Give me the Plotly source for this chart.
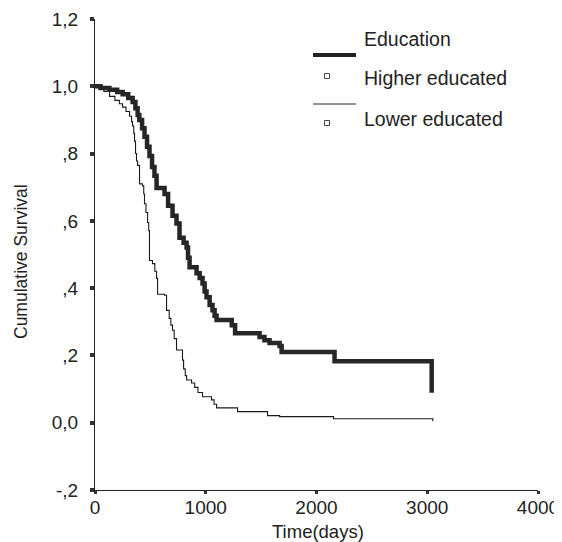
import plotly.graph_objects as go

# ---- data ----
higher_t = [0, 50, 130, 200, 250, 300, 340, 365, 385, 400, 425, 447, 470, 492, 515, 537, 556, 628, 660,
            700, 736, 763, 800, 827, 840, 854, 917, 945, 971, 990, 1007, 1035, 1061, 1080, 1098, 1235,
            1265, 1486, 1530, 1576, 1667, 1685, 2163, 3040, 3040]
higher_s = [1.0, 0.995, 0.99, 0.983, 0.976, 0.965, 0.953, 0.935, 0.915, 0.90, 0.875, 0.85, 0.82, 0.793,
            0.76, 0.734, 0.698, 0.68, 0.645, 0.615, 0.592, 0.55, 0.535, 0.521, 0.49, 0.462, 0.444, 0.43,
            0.414, 0.39, 0.373, 0.35, 0.334, 0.318, 0.305, 0.29, 0.266, 0.255, 0.245, 0.237, 0.228, 0.21,
            0.183, 0.183, 0.089]

lower_t = [0, 40, 80, 131, 180, 220, 248, 280, 312, 330, 339, 350, 357, 366, 375, 385, 402, 429, 440,
           447, 460, 475, 485, 492, 519, 540, 556, 565, 628, 646, 670, 685, 700, 715, 736, 790, 800, 815,
           827, 872, 900, 930, 971, 1052, 1075, 1098, 1287, 1558, 1667, 2154, 3050, 3050]
lower_s = [1.0, 0.995, 0.985, 0.97, 0.958, 0.948, 0.938, 0.925, 0.911, 0.895, 0.882, 0.86, 0.837, 0.80,
           0.778, 0.765, 0.71, 0.704, 0.68, 0.651, 0.625, 0.595, 0.571, 0.482, 0.473, 0.45, 0.429, 0.382,
           0.379, 0.334, 0.31, 0.29, 0.275, 0.25, 0.216, 0.186, 0.16, 0.14, 0.127, 0.118, 0.105, 0.09,
           0.077, 0.068, 0.055, 0.044, 0.033, 0.021, 0.018, 0.012, 0.012, 0.004]

y_tickvals = [-0.2, 0.0, 0.2, 0.4, 0.6, 0.8, 1.0, 1.2]
y_ticktext = ["-,2", "0,0", ",2", ",4", ",6", ",8", "1,0", "1,2"]
x_tickvals = [0, 1000, 2000, 3000, 4000]
x_ticktext = ["0", "1000", "2000", "3000", "4000"]

legend_title = "Education"
series_names = ["Higher educated", "Lower educated"]

# ---- layout geometry (screen pixels of the reference) ----
W, H = 562, 542
OFF = 8  # page body margin
L, R, T, B = 95, 538, 19, 490
FONT = "Liberation Sans, Arial, sans-serif"
TXT = "#222222"


def px(x):
    return (x - L) / (R - L)


def py(y):
    return (B - y) / (B - T)


fig = go.Figure()
fig.add_trace(go.Scatter(x=lower_t, y=lower_s, mode="lines", line=dict(color="#1a1a1a", width=1.1, shape="hv"),
                         name=series_names[1], showlegend=False, hoverinfo="skip"))
fig.add_trace(go.Scatter(x=higher_t, y=higher_s, mode="lines", line=dict(color="#262626", width=4.5, shape="hv"),
                         name=series_names[0], showlegend=False, hoverinfo="skip"))

shapes = []
annotations = []
# legend: thick sample, square, thin sample, square
shapes.append(dict(type="line", xref="paper", yref="paper", x0=px(313), x1=px(356), y0=py(55), y1=py(55),
                   line=dict(color="#222222", width=4)))
shapes.append(dict(type="line", xref="paper", yref="paper", x0=px(313), x1=px(356), y0=py(104), y1=py(104),
                   line=dict(color="#222222", width=1)))
for cy in (76, 123):
    shapes.append(dict(type="rect", xref="paper", yref="paper", x0=px(324.5), x1=px(329.5),
                       y0=py(cy + 2.5), y1=py(cy - 2.5), line=dict(color="#444444", width=1),
                       fillcolor="white"))
for text, cy in ((legend_title, 39), (series_names[0], 78), (series_names[1], 119)):
    annotations.append(dict(text=text, xref="paper", yref="paper", x=px(362), y=py(cy), xanchor="left",
                            yanchor="middle", showarrow=False, font=dict(family=FONT, size=19.5, color=TXT)))
# axis titles
annotations.append(dict(text="Cumulative Survival", xref="paper", yref="paper", x=px(21), y=py(262),
                        xanchor="center", yanchor="middle", textangle=-90, showarrow=False,
                        font=dict(family=FONT, size=17.5, color=TXT)))
annotations.append(dict(text="Time(days)", xref="paper", yref="paper", x=px(318), y=py(531),
                        xanchor="center", yanchor="middle", showarrow=False,
                        font=dict(family=FONT, size=18.5, color=TXT)))

fig.update_layout(
    width=W, height=H,
    margin=dict(l=L - OFF, r=W - R + OFF, t=T - OFF, b=H - B + OFF, pad=0, autoexpand=False),
    paper_bgcolor="white", plot_bgcolor="white",
    showlegend=False,
    shapes=shapes, annotations=annotations,
    xaxis=dict(range=[0, 4000], tickvals=x_tickvals, ticktext=x_ticktext, showgrid=False, zeroline=False,
               showline=True, linecolor="#222222", linewidth=1, ticks="outside", ticklen=3, tickwidth=3,
               tickcolor="#333333", tickfont=dict(family=FONT, size=19, color=TXT), ticklabelstandoff=-3,
               automargin=False, fixedrange=True),
    yaxis=dict(range=[-0.2, 1.2], tickvals=y_tickvals, ticktext=y_ticktext, showgrid=False, zeroline=False,
               showline=True, linecolor="#222222", linewidth=1, ticks="outside", ticklen=4, tickwidth=4,
               tickcolor="#333333", tickfont=dict(family=FONT, size=19, color=TXT), ticklabelstandoff=8,
               automargin=False, fixedrange=True),
)

fig.write_html("out.html")
